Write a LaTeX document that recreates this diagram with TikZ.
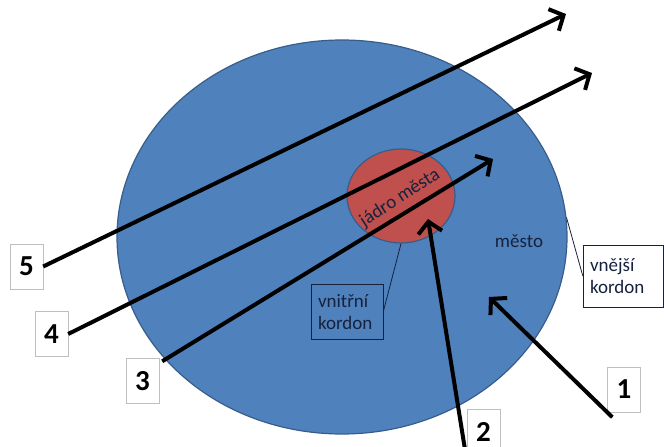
\documentclass[tikz,border=0pt]{standalone}
\usepackage{fontspec}
\setmainfont{Carlito}
\usetikzlibrary{arrows.meta,shapes.geometric}
\definecolor{cityblue}{HTML}{4F81BD}
\definecolor{cityedge}{HTML}{385D8A}
\definecolor{corered}{HTML}{C0504D}
\definecolor{inktext}{HTML}{16223D}
\definecolor{numedge}{HTML}{BFBFBF}
\tikzset{
  zone/.style={draw=cityedge, ellipse, line width=1.2pt, inner sep=0pt},
  numbox/.style={draw=numedge, fill=white, rectangle, minimum width=33pt, minimum height=45pt, inner sep=0pt, font=\fontsize{29}{31}\selectfont\bfseries},
  kbox/.style={draw=inktext, rectangle, align=left, inner xsep=7pt, font=\fontsize{19}{22}\selectfont, text=inktext},
  trip/.style={-{Straight Barb[length=11pt, width=24pt]}, line width=4pt, black},
  kline/.style={draw=inktext, line width=0.8pt},
}
\begin{document}
\begin{tikzpicture}[x=1pt,y=-1pt]
\useasboundingbox (0,0) rectangle (664,447);
% zones
\node[zone, fill=cityblue, minimum width=450pt, minimum height=394pt] (mesto) at (342,237) {};
\node[zone, fill=corered, minimum width=108pt, minimum height=94pt] (jadro) at (401,196) {};
\node[font=\fontsize{19}{22}\selectfont, text=inktext, rotate=33] (jadrotxt) at (400,198) {jádro města};
\node[font=\fontsize{19}{22}\selectfont, text=inktext] (mestotxt) at (519,241) {město};
% cordon labels
\node[kbox, text width=58pt, minimum height=55pt] (vnitrni) at (347,312) {vnitřní\\kordon};
\node[kbox, fill=white, text width=66pt, minimum height=62pt] (vnejsi) at (623,276) {vnější\\kordon};
\draw[kline] (vnitrni.east) -- (jadro.south);
\draw[kline] (vnejsi.west) -- (mesto.5);
% trip numbers
\node[numbox] (n5) at (26.5,266.5) {5};
\node[numbox] (n4) at (51.5,334) {4};
\node[numbox] (n3) at (142.5,381) {3};
\node[numbox] (n2) at (483.5,431.5) {2};
\node[numbox] (n1) at (624,389.5) {1};
\coordinate (t5) at (566,14);
\coordinate (t4) at (592,73);
\coordinate (t3) at (493,159);
\coordinate (s2) at (467,462);
\coordinate (t2) at (428,219);
\coordinate (t1) at (489,297);
\draw[trip] (n5.east) -- (t5);
\draw[trip] (n4.east) -- (t4);
\draw[trip] ([shift={(3,3)}]n3.north east) -- (t3);
\draw[trip] (s2) -- (t2);
\draw[trip] ([shift={(5,5)}]n1.south west) -- (t1);
\end{tikzpicture}
\end{document}
